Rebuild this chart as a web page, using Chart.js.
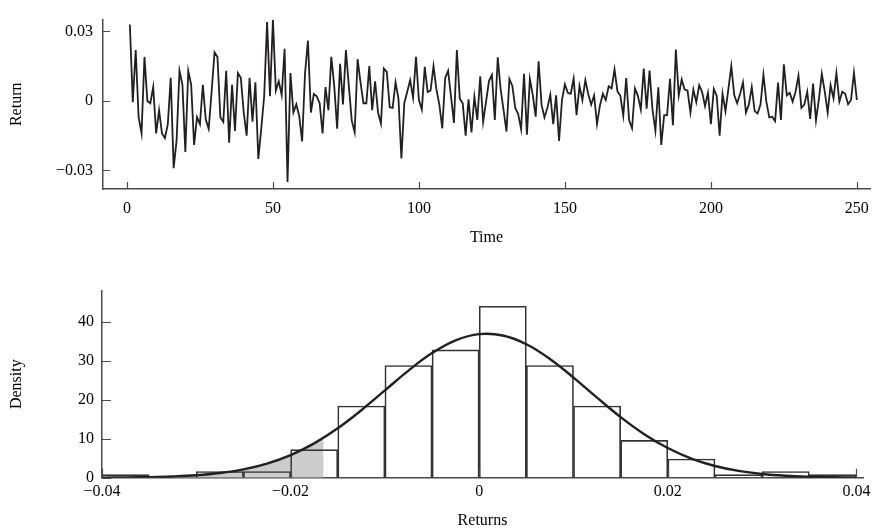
<!DOCTYPE html>
<html>
<head>
<meta charset="utf-8">
<script src="https://cdn.jsdelivr.net/npm/chart.js@4/dist/chart.umd.min.js"></script>
<style>
  html, body { margin: 0; padding: 0; background: #ffffff; }
  body { width: 888px; height: 532px; position: relative; overflow: hidden; }
  #c1 { position: absolute; left: 0; top: 0; }
  #c2 { position: absolute; left: 0; top: 270px; }
</style>
</head>
<body>
<canvas id="c1" width="888" height="260"></canvas>
<canvas id="c2" width="888" height="262"></canvas>
<script>
// ---------- DATA ----------
// Daily returns, days 1..250
const returns = [
  0.033, -0.0005, 0.022, -0.007, -0.014, 0.019, 0.000, -0.001, 0.006, -0.014,
  -0.004, -0.014, -0.016, -0.010, 0.010, -0.029, -0.017, 0.013, 0.007, -0.022,
  0.013, 0.007, -0.019, -0.007, -0.010, 0.007, -0.008, -0.012, 0.004, 0.021,
  0.019, -0.007, -0.009, 0.013, -0.018, 0.007, -0.013, 0.012, 0.010, -0.005,
  -0.015, 0.010, -0.009, 0.008, -0.025, -0.012, 0.002, 0.034, 0.002, 0.035,
  0.0045, 0.0085, 0.0025, 0.0225, -0.035, 0.012, -0.005, -0.0015, -0.0065, -0.0175,
  0.012, 0.026, -0.005, 0.003, 0.002, -0.001, -0.014, 0.006, -0.004, 0.019,
  0.0065, -0.012, 0.016, -0.0015, 0.022, 0.0065, -0.0085, -0.0135, 0.018, 0.008,
  -0.001, -0.001, 0.015, -0.004, 0.0085, -0.005, -0.0098, 0.014, 0.0125, -0.0027,
  -0.003, 0.008, 0.001, -0.0248, -0.001, 0.004, 0.009, 0.0014, 0.019, 0.0004,
  -0.0037, 0.0147, 0.0038, 0.0045, 0.015, 0.005, -0.0016, -0.0118, 0.0099, 0.013,
  0.0018, -0.0095, 0.022, 0.001, -0.001, -0.015, 0.0007, -0.0136, 0.0018, -0.0082,
  0.0106, -0.009, -0.0003, 0.0086, 0.0113, -0.0082, 0.0188, 0.005, -0.004, -0.0132,
  0.0095, 0.0065, -0.003, -0.0057, -0.0122, 0.0117, -0.0146, 0.0095, 0.0025, -0.0068,
  0.0171, -0.0016, -0.0071, -0.003, 0.0027, -0.010, 0.0024, -0.0173, 0.0004, 0.0072,
  0.0035, 0.0031, 0.0097, -0.0061, 0.0065, 0.0004, 0.009, 0.003, -0.0016, 0.0024,
  -0.010, -0.002, 0.0031, 0.0004, 0.0063, 0.0054, 0.0136, 0.0041, 0.0022, -0.0064,
  0.0099, -0.0084, -0.0118, 0.0054, 0.0022, -0.0037, 0.014, -0.0033, 0.0131, -0.0037,
  -0.0128, 0.0059, -0.019, -0.0061, -0.0061, 0.0095, -0.0105, 0.0222, 0.0024, 0.0093,
  0.0049, 0.0045, -0.005, 0.0049, -0.0005, 0.0068, 0.0038, -0.0023, 0.0035, -0.010,
  0.0052, 0.0022, -0.015, 0.0031, -0.0044, 0.0052, 0.015, 0.0025, -0.001, 0.003,
  0.008, -0.005, -0.0016, 0.006, -0.0044, -0.0054, -0.0016, 0.0113, -0.0003, -0.0071,
  -0.0068, -0.0087, 0.0079, -0.0082, 0.0158, 0.0024, 0.0035, -0.0003, 0.004, 0.0109,
  -0.003, -0.0016, 0.004, -0.0078, 0.0075, -0.0084, 0.0008, 0.0117, 0.004, -0.005,
  0.0068, 0.0011, 0.012, -0.0003, 0.004, 0.0031, -0.0014, 0.0004, 0.0122, 0.0004
];
const timeTicks = [0, 50, 100, 150, 200, 250];
const returnTicks = [-0.03, 0, 0.03];

// Histogram: bin centres (width 0.005) and densities
const binCenters = [-0.0375, -0.0325, -0.0275, -0.0225, -0.0175, -0.0125, -0.0075, -0.0025,
                    0.0025, 0.0075, 0.0125, 0.0175, 0.0225, 0.0275, 0.0325, 0.0375];
const binDensity = [0.8, 0, 1.6, 1.6, 7.2, 18.4, 28.8, 32.8,
                    44.0, 28.8, 18.4, 9.6, 4.8, 0.8, 1.6, 0.8];

// Fitted normal density curve
const curveX = [-0.04, -0.0375, -0.035, -0.0325, -0.03, -0.0275, -0.025, -0.0225, -0.02, -0.0175,
                -0.015, -0.0125, -0.01, -0.0075, -0.005, -0.0025, 0, 0.0025, 0.005, 0.0075,
                0.01, 0.0125, 0.015, 0.0175, 0.02, 0.0225, 0.025, 0.0275, 0.03, 0.0325,
                0.035, 0.0375, 0.04];
const curveY = [0.03, 0.07, 0.15, 0.32, 0.63, 1.19, 2.13, 3.61, 5.79, 8.80,
                12.67, 17.31, 22.41, 27.49, 31.98, 35.26, 36.84, 36.49, 34.25, 30.48,
                25.70, 20.54, 15.56, 11.18, 7.61, 4.91, 3.00, 1.74, 0.96, 0.50,
                0.25, 0.12, 0.05];
// Shaded left tail (5% VaR region) of the density curve
const tailX = [-0.04, -0.0375, -0.035, -0.0325, -0.03, -0.0275, -0.025, -0.0225, -0.02, -0.0175, -0.0165];
const tailY = [0.03, 0.07, 0.15, 0.32, 0.63, 1.19, 2.13, 3.61, 5.79, 8.80, 10.24];
const densityTicks = [0, 10, 20, 30, 40];
const returnsTicks = [-0.04, -0.02, 0, 0.02, 0.04];

// ---------- STYLE ----------
const FONT = "'Liberation Serif', 'DejaVu Serif', serif";
const INK = '#231f20';
const AXIS = '#4a4a4a';

function fmt(v) {
  if (Math.abs(v) < 1e-12) return '0';
  const s = String(Math.abs(v));
  return (v < 0 ? '\u2212' : '') + s;
}

const innerTicks = {
  id: 'innerTicks',
  afterDraw(chart, args, opts) {
    const ctx = chart.ctx, a = chart.chartArea;
    const xs = chart.scales.x, ys = chart.scales.y;
    ctx.save();
    ctx.strokeStyle = AXIS;
    ctx.lineWidth = 1.2;
    ctx.beginPath();
    xs.ticks.forEach(t => {
      const px = Math.round(xs.getPixelForValue(t.value)) + 0.5;
      ctx.moveTo(px, a.bottom); ctx.lineTo(px, a.bottom - opts.len);
    });
    ys.ticks.forEach(t => {
      const py = Math.round(ys.getPixelForValue(t.value)) + 0.5;
      ctx.moveTo(a.left, py); ctx.lineTo(a.left + opts.len, py);
    });
    ctx.stroke();
    ctx.restore();
  }
};

Chart.defaults.font.family = FONT;
Chart.defaults.font.size = 16;
Chart.defaults.color = '#000';

// ---------- TOP: time series ----------
new Chart(document.getElementById('c1'), {
  type: 'line',
  data: {
    datasets: [{
      data: returns.map((v, i) => ({ x: i + 1, y: v })),
      borderColor: INK,
      borderWidth: 1.8,
      pointRadius: 0,
      tension: 0,
      fill: false
    }]
  },
  options: {
    responsive: false,
    animation: false,
    devicePixelRatio: 1,
    layout: { padding: { top: 10, right: 18, left: 0, bottom: 0 } },
    plugins: { legend: { display: false }, tooltip: { enabled: false }, innerTicks: { len: 7 } },
    scales: {
      x: {
        type: 'linear', min: -8.2, max: 254.5,
        afterBuildTicks: s => { s.ticks = timeTicks.map(v => ({ value: v })); },
        afterFit: s => { s.height = 71; },
        grid: { display: false, drawTicks: false },
        border: { display: true, color: AXIS, width: 1.5 },
        ticks: { padding: 10, maxRotation: 0, callback: v => fmt(v) },
        title: { display: true, text: 'Time', padding: { top: 0, bottom: 13 } }
      },
      y: {
        type: 'linear', min: -0.038, max: 0.0351,
        afterBuildTicks: s => { s.ticks = returnTicks.map(v => ({ value: v })); },
        afterFit: s => { s.width = 103; },
        grid: { display: false, drawTicks: false },
        border: { display: true, color: AXIS, width: 1.5 },
        ticks: { padding: 10, callback: v => fmt(v) },
        title: { display: true, text: 'Return', padding: { top: 7, bottom: 0 } }
      }
    }
  },
  plugins: [innerTicks]
});

// ---------- BOTTOM: histogram with normal density ----------
new Chart(document.getElementById('c2'), {
  type: 'bar',
  data: {
    datasets: [
      {
        type: 'line',
        data: tailX.map((x, i) => ({ x: x, y: tailY[i] })),
        borderWidth: 0,
        borderColor: 'rgba(0,0,0,0)',
        backgroundColor: '#cccccc',
        fill: 'origin',
        pointRadius: 0,
        tension: 0.4,
        order: 3
      },
      {
        type: 'bar',
        data: binCenters.map((x, i) => ({ x: x, y: binDensity[i] })),
        backgroundColor: 'rgba(0,0,0,0)',
        borderColor: '#333333',
        borderWidth: 1,
        borderSkipped: 'start',
        barPercentage: 1,
        categoryPercentage: 1,
        grouped: false,
        order: 2
      },
      {
        type: 'line',
        data: curveX.map((x, i) => ({ x: x, y: curveY[i] })),
        borderColor: INK,
        borderWidth: 2.4,
        pointRadius: 0,
        tension: 0.4,
        fill: false,
        order: 1
      }
    ]
  },
  options: {
    responsive: false,
    animation: false,
    devicePixelRatio: 1,
    layout: { padding: { top: 20.7, right: 25, left: 0, bottom: 0 } },
    plugins: { legend: { display: false }, tooltip: { enabled: false }, innerTicks: { len: 9 } },
    scales: {
      x: {
        type: 'linear', min: -0.04, max: 0.0407, offset: false,
        afterBuildTicks: s => { s.ticks = returnsTicks.map(v => ({ value: v })); },
        afterFit: s => { s.height = 54.3; },
        grid: { display: false, drawTicks: false, offset: false },
        border: { display: true, color: AXIS, width: 1.5 },
        ticks: { padding: 4, maxRotation: 0, callback: v => fmt(v) },
        title: { display: true, text: 'Returns', padding: { top: 0, bottom: 2 } }
      },
      y: {
        type: 'linear', min: 0, max: 48,
        afterBuildTicks: s => { s.ticks = densityTicks.map(v => ({ value: v })); },
        afterFit: s => { s.width = 102; },
        grid: { display: false, drawTicks: false },
        border: { display: true, color: AXIS, width: 1.5 },
        ticks: { padding: 8, callback: v => fmt(v) },
        title: { display: true, text: 'Density', padding: { top: 7, bottom: 0 } }
      }
    }
  },
  plugins: [innerTicks]
});
</script>
</body>
</html>
